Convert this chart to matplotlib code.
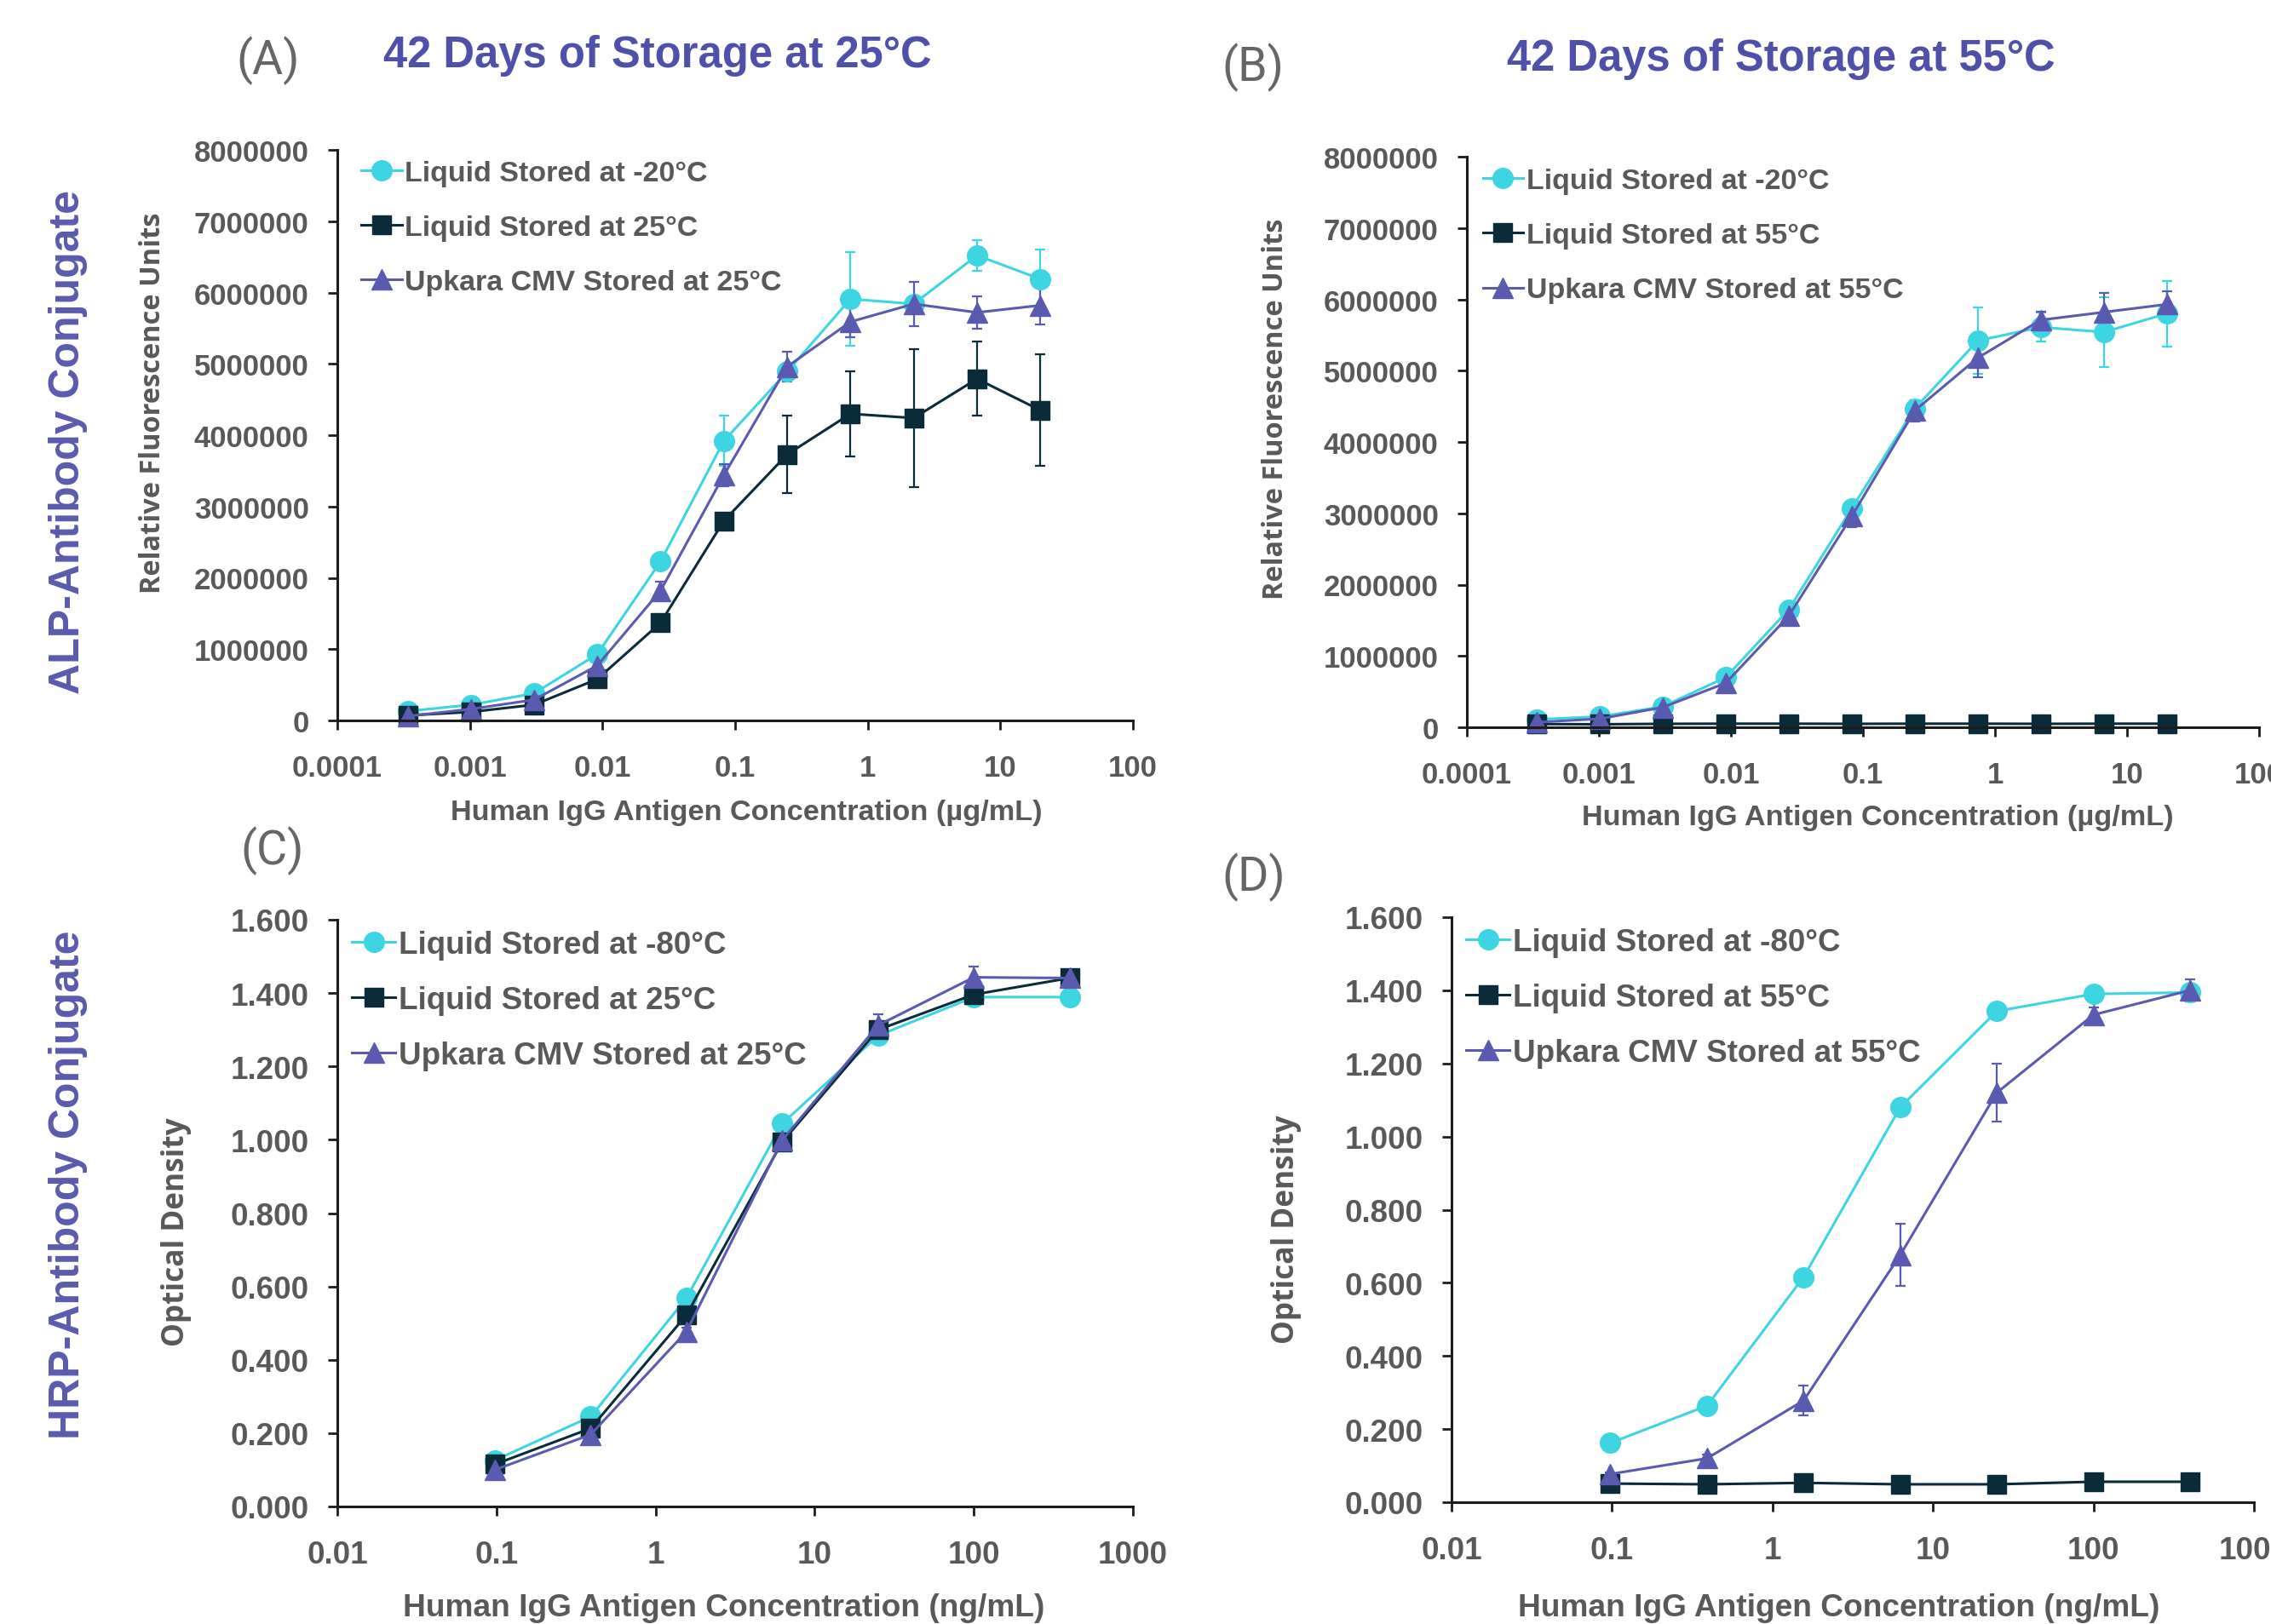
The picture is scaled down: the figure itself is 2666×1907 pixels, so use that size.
import matplotlib
matplotlib.use('Agg')
import matplotlib.pyplot as plt
from matplotlib.lines import Line2D
from matplotlib.ticker import FixedLocator, FuncFormatter, NullLocator

# ---------------- data ----------------
x_alp = [0.000339, 0.00102, 0.00305, 0.00914, 0.0274, 0.0823, 0.247, 0.741, 2.22, 6.67, 20.0]
x_hrp = [0.0977, 0.391, 1.5625, 6.25, 25.0, 100.0, 400.0]

a_cold = [130000, 220000, 380000, 930000, 2230000, 3920000, 4890000, 5910000, 5840000, 6520000, 6190000]
a_cold_err = [20000, 20000, 30000, 50000, 60000, 350000, 100000, 660000, 60000, 210000, 410000]
a_liq = [70000, 120000, 220000, 580000, 1370000, 2800000, 3730000, 4300000, 4240000, 4790000, 4350000]
a_liq_err = [20000, 20000, 30000, 50000, 60000, 80000, 540000, 600000, 970000, 520000, 780000]
a_upk = [60000, 160000, 290000, 770000, 1820000, 3440000, 4960000, 5590000, 5840000, 5720000, 5820000]
a_upk_err = [20000, 20000, 40000, 60000, 130000, 160000, 210000, 220000, 310000, 230000, 270000]

b_cold = [110000, 150000, 290000, 700000, 1650000, 3070000, 4470000, 5420000, 5610000, 5540000, 5800000]
b_cold_err = [10000, 10000, 20000, 40000, 50000, 80000, 100000, 470000, 200000, 490000, 460000]
b_liq = [45000, 42000, 48000, 50000, 50000, 48000, 50000, 50000, 48000, 50000, 50000]
b_liq_err = [5000, 5000, 5000, 5000, 5000, 5000, 5000, 5000, 5000, 5000, 5000]
b_upk = [70000, 120000, 280000, 620000, 1560000, 2960000, 4440000, 5180000, 5710000, 5820000, 5930000]
b_upk_err = [10000, 10000, 20000, 40000, 60000, 150000, 150000, 270000, 120000, 270000, 180000]

c_cold = [0.126, 0.245, 0.568, 1.044, 1.284, 1.389, 1.389]
c_cold_err = [0.005, 0.005, 0.01, 0.01, 0.01, 0.01, 0.01]
c_liq = [0.115, 0.213, 0.522, 0.994, 1.300, 1.396, 1.441]
c_liq_err = [0.005, 0.005, 0.01, 0.01, 0.01, 0.01, 0.01]
c_upk = [0.100, 0.196, 0.477, 0.999, 1.312, 1.443, 1.441]
c_upk_err = [0.005, 0.005, 0.01, 0.01, 0.03, 0.03, 0.01]

d_cold = [0.162, 0.264, 0.616, 1.080, 1.343, 1.390, 1.394]
d_cold_err = [0.005, 0.005, 0.01, 0.01, 0.01, 0.01, 0.01]
d_liq = [0.051, 0.049, 0.053, 0.049, 0.049, 0.056, 0.056]
d_liq_err = [0.003, 0.003, 0.003, 0.003, 0.003, 0.003, 0.003]
d_upk = [0.077, 0.120, 0.278, 0.676, 1.120, 1.333, 1.400]
d_upk_err = [0.005, 0.01, 0.04, 0.085, 0.08, 0.02, 0.03]

labels_a = ["Liquid Stored at -20°C", "Liquid Stored at 25°C", "Upkara CMV Stored at 25°C"]
labels_b = ["Liquid Stored at -20°C", "Liquid Stored at 55°C", "Upkara CMV Stored at 55°C"]
labels_c = ["Liquid Stored at -80°C", "Liquid Stored at 25°C", "Upkara CMV Stored at 25°C"]
labels_d = ["Liquid Stored at -80°C", "Liquid Stored at 55°C", "Upkara CMV Stored at 55°C"]

xticks_ug = [0.0001, 0.001, 0.01, 0.1, 1, 10, 100]
xticks_ng = [0.01, 0.1, 1, 10, 100, 1000]
yticks_rfu = [0, 1000000, 2000000, 3000000, 4000000, 5000000, 6000000, 7000000, 8000000]
yticks_od = [0.0, 0.2, 0.4, 0.6, 0.8, 1.0, 1.2, 1.4, 1.6]

# ---------------- style ----------------
CYAN = '#3DD5E2'
NAVY = '#0A2B3A'
PURPLE = '#5A5AB0'
TITLE_C = '#4E50AA'
GRAY = '#595959'
LETTER = '#666666'
ARIAL = ['Liberation Sans', 'DejaVu Sans']
OPEN = ['Open Sans', 'DejaVu Sans']

W, H = 2666, 1908
fig = plt.figure(figsize=(W / 100, H / 100), dpi=100)


def ax_at(l, t, r, b):
    return fig.add_axes([l / W, 1 - b / H, (r - l) / W, (b - t) / H])


colors = [CYAN, NAVY, PURPLE]
markers = ['o', 's', '^']
msizes = [17, 16, 17]


def panel(ax, x, ys, errs, labels, xlim, xticks, ylim, yticks, yfmt, tick_fs, leg_fs, leg_anchor, leg_sp):
    for y, e, c, m, s in zip(ys, errs, colors, markers, msizes):
        ax.errorbar(x, y, yerr=e, color=c, marker=m, ms=s, lw=2.2,
                    mec=c, mfc=c, elinewidth=1.6, capsize=4, capthick=1.6,
                    ecolor=c, clip_on=False)
    ax.set_xscale('log')
    ax.set_xlim(*xlim)
    ax.set_ylim(*ylim)
    ax.xaxis.set_major_locator(FixedLocator(xticks))
    ax.xaxis.set_minor_locator(NullLocator())
    ax.xaxis.set_major_formatter(FuncFormatter(lambda v, p: '%g' % v))
    ax.yaxis.set_major_locator(FixedLocator(yticks))
    ax.yaxis.set_major_formatter(FuncFormatter(yfmt))
    for s in ['top', 'right']:
        ax.spines[s].set_visible(False)
    for s in ['left', 'bottom']:
        ax.spines[s].set_linewidth(2.2)
        ax.spines[s].set_color('#1c1c1c')
    ax.tick_params(axis='both', direction='out', length=8, width=2.0, color='#1c1c1c',
                   labelcolor=GRAY, labelsize=tick_fs)
    ax.tick_params(axis='y', pad=16)
    ax.tick_params(axis='x', pad=20)
    for lab in ax.get_xticklabels() + ax.get_yticklabels():
        lab.set_fontfamily(ARIAL)
        lab.set_fontweight('bold')
    handles = [Line2D([], [], color=c, marker=m, ms=s, lw=2.2, mec=c, mfc=c)
               for c, m, s in zip(colors, markers, msizes)]
    leg = ax.legend(handles, labels, loc='upper left', bbox_to_anchor=leg_anchor,
                    frameon=False, handlelength=1.4, handletextpad=0.1,
                    labelspacing=leg_sp, borderpad=0, borderaxespad=0,
                    prop={'family': ARIAL, 'weight': 'bold', 'size': leg_fs})
    for t in leg.get_texts():
        t.set_color(GRAY)


fmt_int = lambda v, p: '%d' % round(v)
fmt_od = lambda v, p: '%.3f' % v

axA = ax_at(396, 177, 1330, 847)
panel(axA, x_alp, [a_cold, a_liq, a_upk], [a_cold_err, a_liq_err, a_upk_err], labels_a,
      (0.0001, 100), xticks_ug, (0, 8000000), yticks_rfu, fmt_int, 25, 24.5, (0.03, 0.982), 0.97)

axB = ax_at(1722, 185, 2652, 855)
panel(axB, x_alp, [b_cold, b_liq, b_upk], [b_cold_err, b_liq_err, b_upk_err], labels_b,
      (0.0001, 100), xticks_ug, (0, 8000000), yticks_rfu, fmt_int, 25, 24.5, (0.02, 0.98), 0.97)

axC = ax_at(396, 1081, 1330, 1770)
panel(axC, x_hrp, [c_cold, c_liq, c_upk], [c_cold_err, c_liq_err, c_upk_err], labels_c,
      (0.01, 1000), xticks_ng, (0, 1.6), yticks_od, fmt_od, 26.5, 26.5, (0.018, 0.983), 0.82)

axD = ax_at(1704, 1078, 2646, 1765)
panel(axD, x_hrp, [d_cold, d_liq, d_upk], [d_cold_err, d_liq_err, d_upk_err], labels_d,
      (0.01, 1000), xticks_ng, (0, 1.6), yticks_od, fmt_od, 26.5, 26.5, (0.018, 0.983), 0.82)


def ftext(x, y, s, **kw):
    fig.text(x / W, 1 - y / H, s, **kw)


# panel letters
for (x, y, s) in [(315, 71, '(A)'), (1471, 79, '(B)'), (320, 999, '(C)'), (1472, 1030, '(D)')]:
    ftext(x, y, s, ha='center', va='center', fontsize=40, color=LETTER,
          family=['Roboto', 'DejaVu Sans'], fontweight='normal')

# titles
ftext(772, 66, '42 Days of Storage at 25°C', ha='center', va='center', fontsize=36.5,
      color=TITLE_C, family=ARIAL, fontweight='bold')
ftext(2091, 70, '42 Days of Storage at 55°C', ha='center', va='center', fontsize=36.5,
      color=TITLE_C, family=ARIAL, fontweight='bold')

# row labels
ftext(80, 519, 'ALP-Antibody Conjugate', ha='center', va='center', rotation=90,
      fontsize=36, color=PURPLE, family=ARIAL, fontweight='bold')
ftext(80, 1391, 'HRP-Antibody Conjugate', ha='center', va='center', rotation=90,
      fontsize=36, color=PURPLE, family=ARIAL, fontweight='bold')

# y labels
ftext(179, 473, 'Relative Fluorescence Units', ha='center', va='center', rotation=90,
      fontsize=23.4, color=GRAY, family=OPEN, fontweight='bold')
ftext(1498, 480, 'Relative Fluorescence Units', ha='center', va='center', rotation=90,
      fontsize=23.4, color=GRAY, family=OPEN, fontweight='bold')
ftext(207, 1447, 'Optical Density', ha='center', va='center', rotation=90,
      fontsize=25.3, color=GRAY, family=OPEN, fontweight='bold')
ftext(1510, 1444, 'Optical Density', ha='center', va='center', rotation=90,
      fontsize=25.3, color=GRAY, family=OPEN, fontweight='bold')

# x labels
ftext(876, 955, 'Human IgG Antigen Concentration (µg/mL)', ha='center', va='center',
      fontsize=24.7, color=GRAY, family=ARIAL, fontweight='bold')
ftext(2204, 961, 'Human IgG Antigen Concentration (µg/mL)', ha='center', va='center',
      fontsize=24.7, color=GRAY, family=ARIAL, fontweight='bold')
ftext(850, 1889, 'Human IgG Antigen Concentration (ng/mL)', ha='center', va='center',
      fontsize=26.7, color=GRAY, family=ARIAL, fontweight='bold')
ftext(2159, 1889, 'Human IgG Antigen Concentration (ng/mL)', ha='center', va='center',
      fontsize=26.7, color=GRAY, family=ARIAL, fontweight='bold')

fig.savefig('out.png', dpi=100, facecolor='white')
